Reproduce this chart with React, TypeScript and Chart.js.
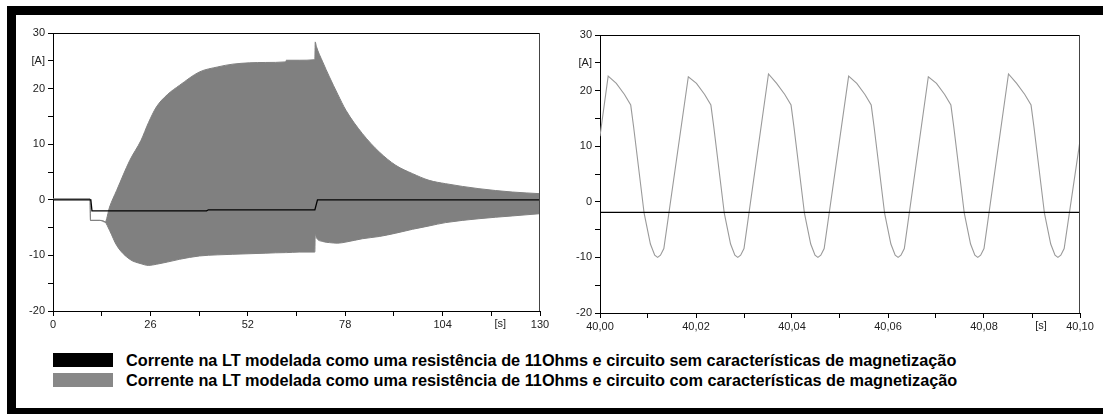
import React, { useEffect, useRef } from 'react';
import { Chart, registerables } from 'chart.js';

Chart.register(...registerables);

// ---------- Left chart (0 .. 130 s) ----------
// envelope of the gray (with magnetization) current
const envTime = [0, 9.9, 10.0, 12.5, 13.9, 15.1, 17.0, 20.5, 23.5, 25.5, 27.6, 30.5, 33.8, 39.1, 44.0, 48.0, 56.8, 62.0, 62.3, 65.7, 69.9, 70.0, 70.3, 72.0, 73.8, 76.0, 78.2, 82.6, 87.1, 91.5, 96.0, 100.4, 104.8, 113.7, 122.6, 130];
const envUpper = [0.15, 0.15, -3.7, -3.7, -4.0, -1.3, 1.7, 7.1, 10.7, 13.9, 16.7, 18.9, 20.6, 23.0, 23.9, 24.4, 24.7, 24.8, 25.1, 25.1, 25.2, 28.4, 27.6, 24.8, 22.1, 19.0, 16.1, 11.9, 8.6, 6.2, 4.7, 3.5, 2.9, 2.0, 1.4, 1.1];
const envLower = [0.15, 0.15, -3.7, -3.7, -4.0, -5.5, -8.2, -10.7, -11.5, -11.8, -11.6, -11.2, -10.7, -10.1, -9.9, -9.8, -9.6, -9.5, -9.5, -9.4, -9.4, -6.1, -6.8, -7.5, -7.7, -7.8, -7.6, -7.0, -6.6, -6.0, -5.3, -4.7, -4.1, -3.4, -2.9, -2.5];
// black (without magnetization) current
const dcTime = [0, 10.1, 10.4, 41.0, 41.5, 69.9, 70.6, 130];
const dcValue = [0, 0, -2.0, -2.0, -1.8, -1.8, 0, 0];

// ---------- Right chart (40.00 .. 40.10 s) ----------
const zoomTime = [
  40.0, 40.0017, 40.0034, 40.0051, 40.0064, 40.0070, 40.0092, 40.0105, 40.0114, 40.0120, 40.0126, 40.0133,
  40.0184, 40.0201, 40.0218, 40.0231, 40.0237, 40.0259, 40.0272, 40.0281, 40.0287, 40.0293, 40.0300,
  40.0351, 40.0368, 40.0385, 40.0398, 40.0404, 40.0426, 40.0439, 40.0448, 40.0454, 40.0460, 40.0467,
  40.0518, 40.0535, 40.0552, 40.0565, 40.0571, 40.0593, 40.0606, 40.0615, 40.0621, 40.0627, 40.0634,
  40.0684, 40.0701, 40.0718, 40.0731, 40.0737, 40.0759, 40.0772, 40.0781, 40.0787, 40.0793, 40.0800,
  40.0851, 40.0868, 40.0885, 40.0898, 40.0904, 40.0926, 40.0939, 40.0948, 40.0954, 40.0960, 40.0967,
  40.1,
];
const zoomValue = [
  11.8, 22.6, 21.3, 19.3, 17.4, 13.5, -2.1, -7.6, -9.6, -10.0, -9.6, -8.4,
  22.5, 21.3, 19.3, 17.4, 13.5, -2.1, -7.6, -9.6, -10.0, -9.6, -8.4,
  23.0, 21.3, 19.3, 17.4, 13.5, -2.1, -7.6, -9.6, -10.0, -9.6, -8.4,
  22.6, 21.3, 19.3, 17.4, 13.5, -2.1, -7.6, -9.6, -10.0, -9.6, -8.4,
  22.5, 21.3, 19.3, 17.4, 13.5, -2.1, -7.6, -9.6, -10.0, -9.6, -8.4,
  23.0, 21.3, 19.3, 17.4, 13.5, -2.1, -7.6, -9.6, -10.0, -9.6, -8.4,
  11.0,
];
const zoomDcTime = [40.0, 40.1];
const zoomDcValue = [-1.9, -1.9];

// ---------- Axes ----------
const yMin = -20;
const yMax = 30;
const yStep = 5;
const yLabeled = [30, 20, 10, 0, -10, -20];
const yUnit = '[A]';
const yUnitAt = 25;
const xUnit = '[s]';
const leftX = { min: 0, max: 130, step: 13, labelEvery: 26, unitAt: 117 };
const rightX = { min: 40.0, max: 40.1, step: 0.01, labelEvery: 0.02, unitAt: 40.09 };

const legendLabels = [
  'Corrente na LT modelada como uma resistência de 11Ohms e circuito sem características de magnetização',
  'Corrente na LT modelada como uma resistência de 11Ohms e circuito com características de magnetização',
];
const legendColors = ['#000000', '#888888'];

const FONT = '"Liberation Sans", Arial, sans-serif';
const TICK_COLOR = '#222';

const toPoints = (xs: number[], ys: number[]) => xs.map((x, i) => ({ x, y: ys[i] }));

const boxPlugin = {
  id: 'box',
  afterDraw(chart: any, _args: any, opts: any) {
    const { ctx, chartArea: a } = chart;
    ctx.save();
    ctx.lineWidth = 1;
    ctx.strokeStyle = '#000';
    ctx.beginPath();
    ctx.moveTo(a.left, Math.round(a.top) + 0.5);
    ctx.lineTo(a.right, Math.round(a.top) + 0.5);
    ctx.stroke();
    ctx.strokeStyle = '#444';
    ctx.beginPath();
    ctx.moveTo(Math.round(a.right) - 0.5, a.top);
    ctx.lineTo(Math.round(a.right) - 0.5, a.bottom);
    ctx.stroke();
    const xs = chart.scales.x;
    ctx.fillStyle = TICK_COLOR;
    ctx.font = `11px ${FONT}`;
    ctx.textAlign = 'center';
    ctx.textBaseline = 'top';
    ctx.fillText(xUnit, xs.getPixelForValue(opts.unitAt) + 9, a.bottom + 7);
    ctx.restore();
  },
};

function makeOptions(xcfg: any, yWidth: number, xHeight: number, pad: any, fmt: (v: number) => string) {
  const near = (a: number, b: number, eps: number) => Math.abs(a - b) < eps;
  return {
    animation: false as const,
    responsive: false,
    devicePixelRatio: 1,
    events: [],
    layout: { padding: pad },
    plugins: { legend: { display: false }, tooltip: { enabled: false }, box: { unitAt: xcfg.unitAt } },
    elements: { point: { radius: 0 }, line: { tension: 0 } },
    scales: {
      x: {
        type: 'linear' as const,
        min: xcfg.min,
        max: xcfg.max,
        afterFit: (s: any) => { s.height = xHeight; },
        border: { display: true, color: '#000', width: 1 },
        grid: { display: true, drawOnChartArea: false, drawTicks: true, tickLength: 5, color: '#000', lineWidth: 1 },
        ticks: {
          stepSize: xcfg.step,
          autoSkip: false,
          maxRotation: 0,
          padding: 2,
          color: TICK_COLOR,
          font: { family: FONT, size: 11 },
          callback: (v: number) => {
            const r = (v - xcfg.min) / xcfg.labelEvery;
            return near(r, Math.round(r), 1e-6) ? fmt(v) : '';
          },
        },
      },
      y: {
        type: 'linear' as const,
        min: yMin,
        max: yMax,
        afterFit: (s: any) => { s.width = yWidth; },
        border: { display: true, color: '#000', width: 1 },
        grid: { display: true, drawOnChartArea: false, drawTicks: true, tickLength: 5, color: '#000', lineWidth: 1 },
        ticks: {
          stepSize: yStep,
          autoSkip: false,
          padding: 3,
          color: TICK_COLOR,
          font: { family: FONT, size: 11 },
          callback: (v: number) => {
            if (near(v, yUnitAt, 1e-6)) return yUnit;
            return yLabeled.some((l) => near(l, v, 1e-6)) ? String(Math.round(v)) : '';
          },
        },
      },
    },
  };
}

function LeftChart() {
  const ref = useRef<HTMLCanvasElement>(null);
  useEffect(() => {
    const chart = new Chart(ref.current!, {
      type: 'line',
      data: {
        datasets: [
          { data: toPoints(dcTime, dcValue), borderColor: '#000', borderWidth: 1.3, fill: false },
          { data: toPoints(envTime, envUpper), borderColor: '#808080', backgroundColor: '#808080', borderWidth: 1, fill: '+1', cubicInterpolationMode: 'monotone' },
          { data: toPoints(envTime, envLower), borderColor: '#808080', borderWidth: 1, fill: false, cubicInterpolationMode: 'monotone' },
        ],
      },
      options: makeOptions(leftX, 37, 34, { left: 0, right: 21, top: 18, bottom: 0 }, (v) => String(Math.round(v))) as any,
      plugins: [boxPlugin],
    });
    return () => chart.destroy();
  }, []);
  return <canvas ref={ref} width={545} height={330} style={{ position: 'absolute', left: 16, top: 15, width: 545, height: 330 }} />;
}

function RightChart() {
  const ref = useRef<HTMLCanvasElement>(null);
  useEffect(() => {
    const chart = new Chart(ref.current!, {
      type: 'line',
      data: {
        datasets: [
          { data: toPoints(zoomDcTime, zoomDcValue), borderColor: '#000', borderWidth: 1.2, fill: false },
          { data: toPoints(zoomTime, zoomValue), borderColor: '#9a9a9a', borderWidth: 1.1, fill: false },
        ],
      },
      options: makeOptions(rightX, 40, 32, { left: 0, right: 23, top: 20, bottom: 0 }, (v) => v.toFixed(2).replace('.', ',')) as any,
      plugins: [boxPlugin],
    });
    return () => chart.destroy();
  }, []);
  return <canvas ref={ref} width={543} height={330} style={{ position: 'absolute', left: 560, top: 15, width: 543, height: 330 }} />;
}

export default function App() {
  return (
    <div style={{ position: 'fixed', left: 0, top: 0, width: 1103, height: 414, overflow: 'hidden', background: '#fff' }}>
      <div style={{ position: 'absolute', left: 7, top: 6, width: 1200, height: 393, border: '9px solid #000' }} />
      <LeftChart />
      <RightChart />
      {legendLabels.map((label, i) => (
        <div key={i} style={{ position: 'absolute', left: 53, top: 353 + i * 20, height: 14, display: 'flex', alignItems: 'center' }}>
          <div style={{ width: 60, height: 13.5, background: legendColors[i], marginRight: 13 }} />
          <span style={{ font: `bold 16.3px ${FONT}`, color: '#000', whiteSpace: 'nowrap', lineHeight: '14px' }}>{label}</span>
        </div>
      ))}
    </div>
  );
}
